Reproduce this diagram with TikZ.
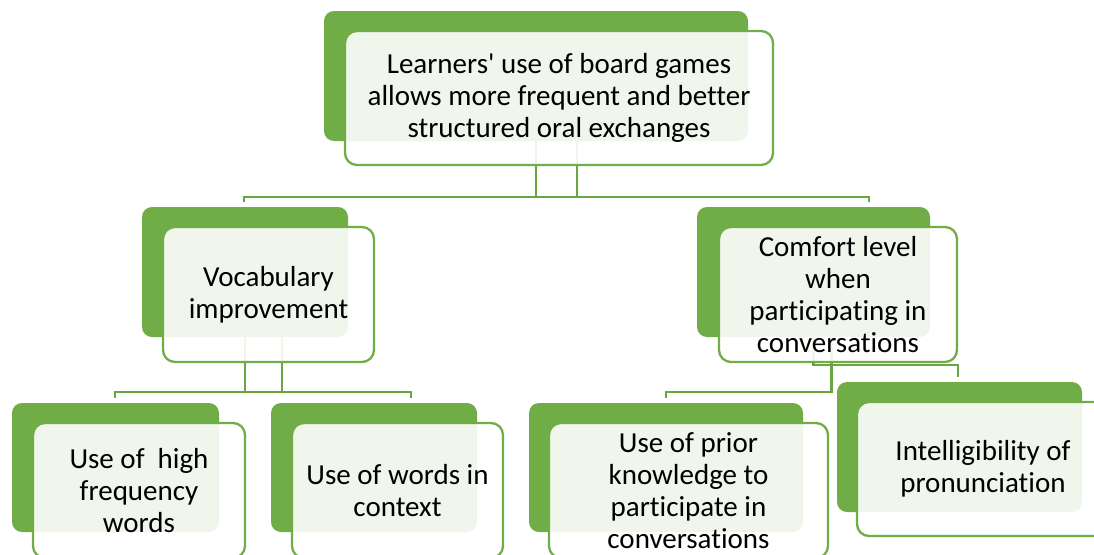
\documentclass[tikz,border=0pt]{standalone}
\usepackage{fontspec}
\setmainfont{Carlito}[Ligatures={NoCommon,TeXOff}]
\definecolor{gback}{HTML}{70AD47}
\definecolor{gline}{HTML}{6AA543}
\tikzset{
  backbox/.style={fill=gback, rounded corners=10pt, inner sep=0pt},
  frontbox/.style={draw=gback, line width=2.3pt, fill=white, fill opacity=0.9, text opacity=1,
    rounded corners=12pt, inner sep=0pt, align=center, font=\fontsize{29}{32}\selectfont},
  conn/.style={draw=gline, line width=2.4pt}
}
\begin{document}
\begin{tikzpicture}[x=1pt,y=-1pt]
\useasboundingbox (0,0) rectangle (1094,554);
% back boxes
\node[backbox, minimum width=424pt, minimum height=130pt] (topB) at (536,76) {};
\node[backbox, minimum width=206pt, minimum height=130pt] (vocB) at (245,272) {};
\node[backbox, minimum width=233pt, minimum height=130pt] (comB) at (813.5,272) {};
\node[backbox, minimum width=207pt, minimum height=129pt] (hfB) at (115.5,467.5) {};
\node[backbox, minimum width=206pt, minimum height=129pt] (wcB) at (374,467.5) {};
\node[backbox, minimum width=274pt, minimum height=129pt] (prB) at (666,467.5) {};
\node[backbox, minimum width=245pt, minimum height=130pt] (inB) at (959.5,447) {};
% connector ends
\coordinate (j1) at (244,202);
\coordinate (j2) at (869,202);
\coordinate (j3) at (115,398);
\coordinate (j4) at (411,398);
\coordinate (j5) at (666,398);
\coordinate (j6) at (958,377);
\draw[conn] ([xshift=41pt]topB.south) -- ++(0,56) -| (j1);
\draw[conn] (topB.south) -- ++(0,56) -| (j2);
\draw[conn] ([xshift=37pt]vocB.south) -- ++(0,55) -| (j3);
\draw[conn] (vocB.south) -- ++(0,55) -| (j4);
\draw[conn] ([xshift=18pt]comB.south) -- ++(0,55) -| (j5);
\draw[conn] (comB.south) -- ++(0,28) -| (j6);
% front boxes
\node[frontbox, minimum width=428pt, minimum height=134pt] (topF) at (559,98)
  {Learners' use of board games\\allows more frequent and better\\structured oral exchanges};
\node[frontbox, minimum width=211pt, minimum height=135pt] (vocF) at (268.5,294.5)
  {Vocabulary\\improvement};
\node[frontbox, minimum width=238pt, minimum height=135pt] (comF) at (838,294.5)
  {Comfort level\\when\\participating in\\conversations};
\node[frontbox, minimum width=212pt, minimum height=135pt] (hfF) at (139,490.5)
  {Use of~ high\\frequency\\words};
\node[frontbox, minimum width=211pt, minimum height=135pt] (wcF) at (397.5,490.5)
  {Use of words in\\context};
\node[frontbox, minimum width=279pt, minimum height=135pt] (prF) at (688.5,490.5)
  {Use of prior\\knowledge to\\participate in\\conversations};
\node[frontbox, minimum width=252pt, minimum height=134pt] (inF) at (983,469)
  {Intelligibility of\\pronunciation};
\end{tikzpicture}
\end{document}
